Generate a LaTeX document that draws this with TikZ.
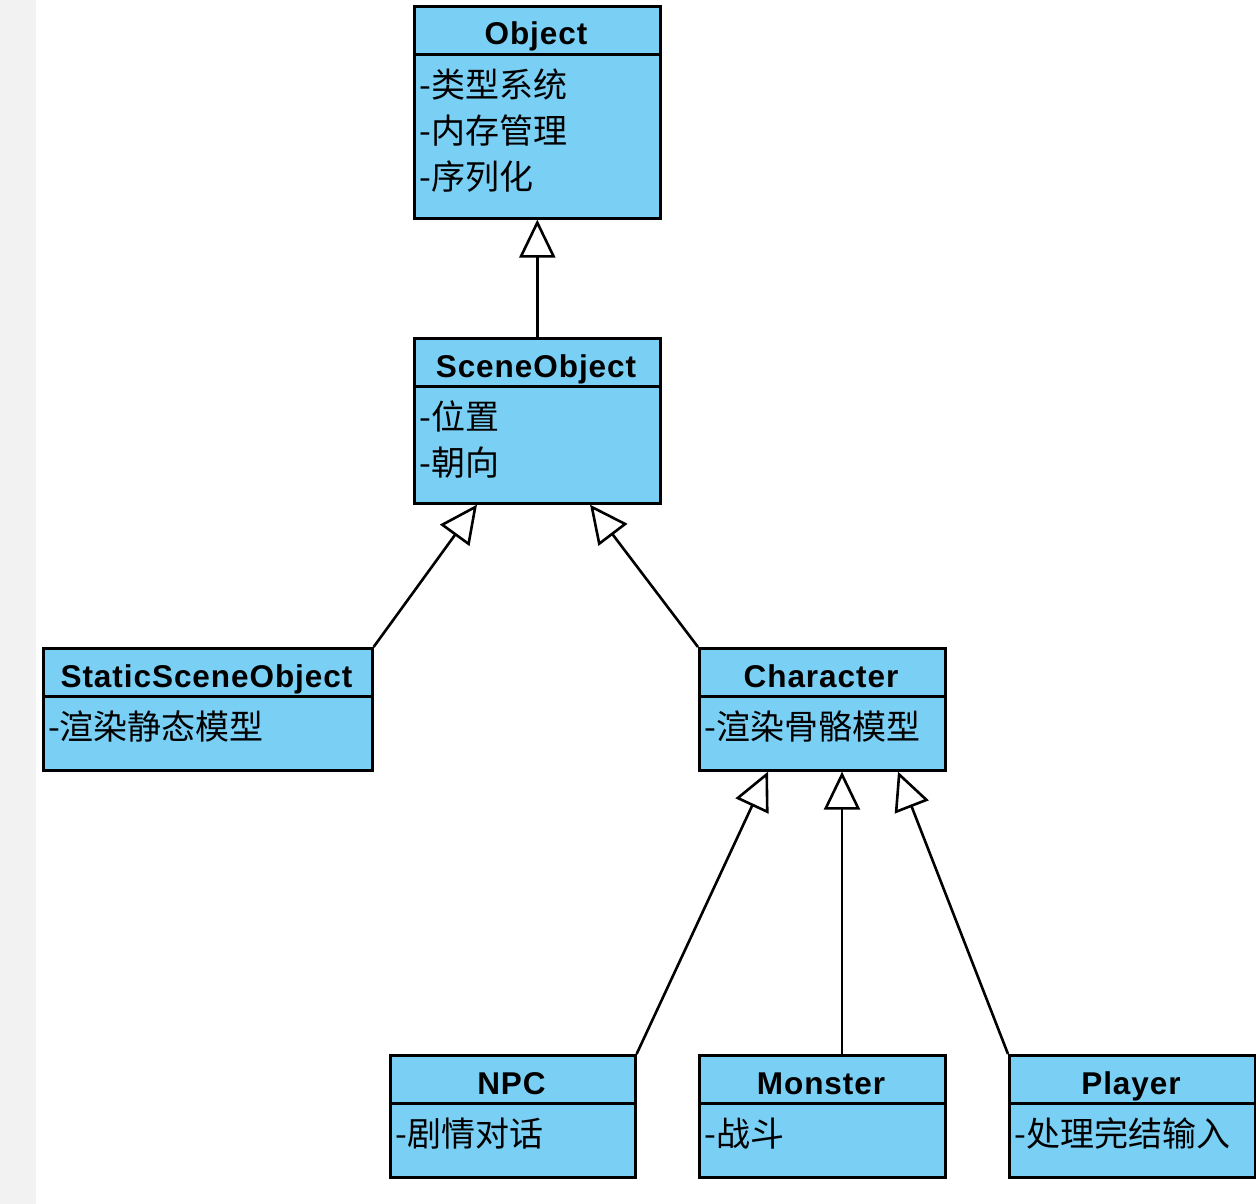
\documentclass[tikz,border=0pt]{standalone}
\usepackage{fontspec}
\setmainfont{Liberation Sans}
\newfontfamily\titlefont[LetterSpace=3]{Liberation Sans}
\newfontfamily\cjk{Noto Sans CJK SC}
\usetikzlibrary{arrows.meta,calc}
\definecolor{boxblue}{HTML}{7ACFF4}
\definecolor{stripgray}{HTML}{F2F2F2}
\newcommand\umlclass[6]{%
  \node[classbox, minimum width=#4pt, minimum height=#5pt] (#1) at (#2,#3) {};
  \draw[divider] (#2,#3+49.5) -- (#2+#4,#3+49.5);
  \node[titletext] (#1-title) at (#2+#4/2,#3+40) {#6};
}
\begin{document}
\begin{tikzpicture}[x=1pt,y=-1pt,
  classbox/.style={draw=black, line width=2.6pt, fill=boxblue, anchor=north west, inner sep=0pt},
  titletext/.style={font=\titlefont\fontsize{31.5}{31.5}\selectfont\bfseries, anchor=base, inner sep=0pt},
  attrtext/.style={font=\cjk\fontsize{34}{34}\selectfont, anchor=base west, inner sep=0pt},
  divider/.style={line width=2.6pt},
  inherit/.style={line width=2.6pt, -{Triangle[length=38pt,width=36pt,fill=white,line width=2.6pt]}}]
\useasboundingbox (0,0) rectangle (1256,1204);
\fill[stripgray] (0,0) rectangle (36,1204);

\umlclass{obj}{413}{5}{246}{212}{Object}
\node[attrtext] (obj-a1) at (419,97.5) {-类型系统};
\node[attrtext] (obj-a2) at (419,143.5) {-内存管理};
\node[attrtext] (obj-a3) at (419,189.5) {-序列化};

\umlclass{scene}{413}{337}{246}{165}{SceneObject}
\node[attrtext] (scene-a1) at (419,429.5) {-位置};
\node[attrtext] (scene-a2) at (419,475.5) {-朝向};

\umlclass{static}{42}{647}{329}{122}{StaticSceneObject}
\node[attrtext] (static-a1) at (48,739.5) {-渲染静态模型};

\umlclass{char}{698}{647}{246}{122}{Character}
\node[attrtext] (char-a1) at (704,739.5) {-渲染骨骼模型};

\umlclass{npc}{389}{1054}{245}{122}{NPC}
\node[attrtext] (npc-a1) at (395,1146.5) {-剧情对话};

\umlclass{monster}{698}{1054}{246}{122}{Monster}
\node[attrtext] (monster-a1) at (704,1146.5) {-战斗};

\umlclass{player}{1008}{1054}{246}{122}{Player}
\node[attrtext] (player-a1) at (1014,1146.5) {-处理完结输入};

\draw[inherit] (scene.north) -- (obj.south);
\draw[inherit] (static.north east) -- ($(scene.south west)+(64,0)$);
\draw[inherit] (char.north west) -- ($(scene.south west)+(177,0)$);
\draw[inherit] (npc.north east) -- ($(char.south west)+(70,0)$);
\draw[inherit] ($(monster.north west)+(144,0)$) -- ($(char.south west)+(144,0)$);
\draw[inherit] (player.north west) -- ($(char.south west)+(200,0)$);
\end{tikzpicture}
\end{document}
